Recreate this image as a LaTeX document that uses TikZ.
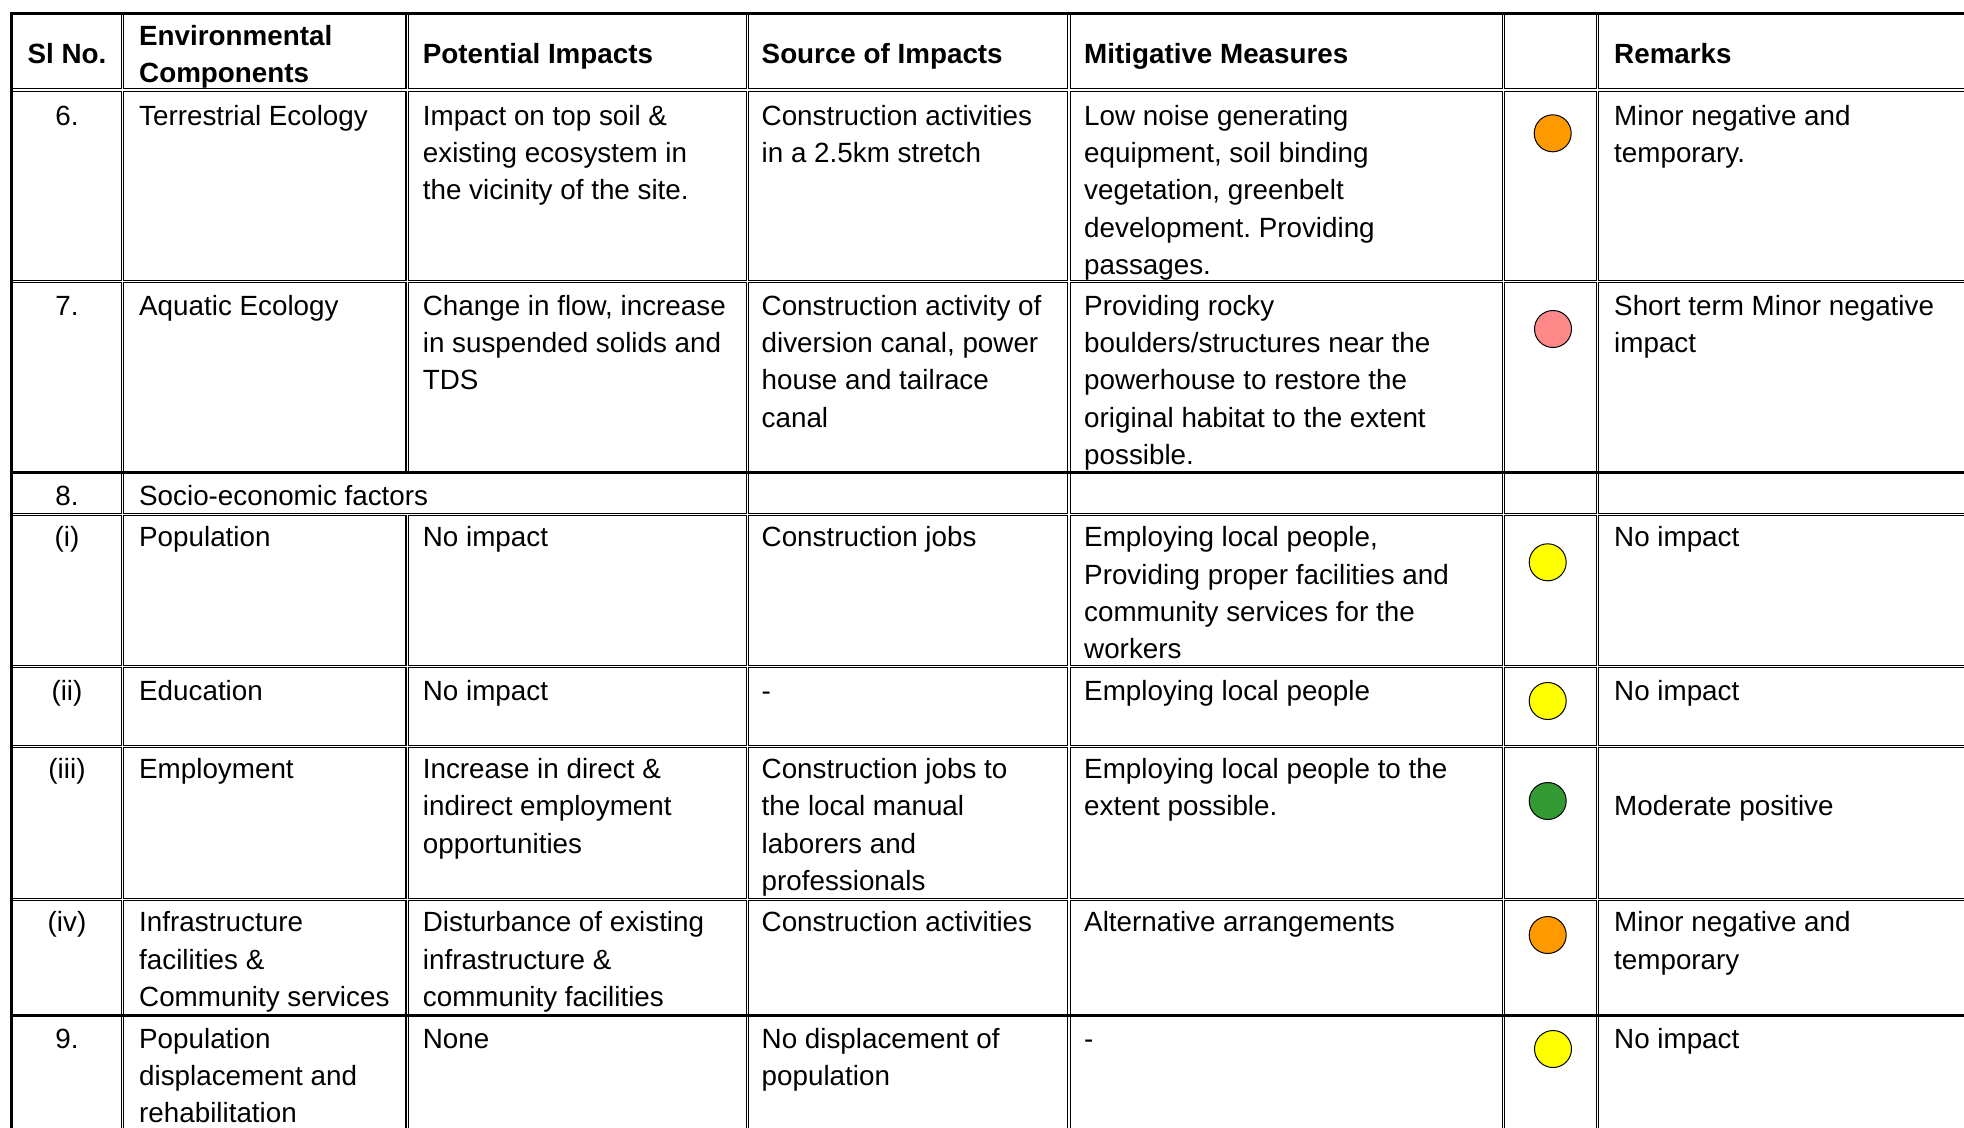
\documentclass[tikz,border=0pt]{standalone}
\usepackage{fontspec}
\setmainfont{Liberation Sans}
\usepackage{tikz}
\usetikzlibrary{positioning, calc}
\frenchspacing
\tikzstyle{cellLine}=[draw=black, line width=1.1pt]
\tikzstyle{outerLine}=[draw=black, line width=3pt]
\tikzstyle{heavyLine}=[draw=black, line width=2.6pt]
\tikzstyle{cellText}=[anchor=north west, inner sep=0pt, align=left,
  font=\fontsize{27.8}{37.3}\selectfont, execute at begin node=\strut]
\tikzstyle{headText}=[cellText, font=\fontsize{27.8}{37.3}\selectfont\bfseries]
\tikzstyle{numText}=[cellText, anchor=north, align=center]
\tikzstyle{headNum}=[headText, anchor=north, align=center]
\tikzstyle{rating}=[circle, draw=black, line width=1pt, minimum size=37pt, inner sep=0pt]
\definecolor{dotOrange}{RGB}{255,153,0}
\definecolor{dotPink}{RGB}{255,136,136}
\definecolor{dotYellow}{RGB}{255,255,0}
\definecolor{dotGreen}{RGB}{51,153,51}

\begin{document}
\begin{tikzpicture}[x=1pt, y=-1pt]
  \useasboundingbox (0,0) rectangle (1964,1127);
  \clip (0,0) rectangle (1964,1127);

  % cell borders
  \foreach \ya/\yb in {13/90, 90/281.7, 281.7/472.3, 514.3/666.7, 666.7/746.7,
      746.7/899.3, 899.3/1015.5, 1015.5/1200}
    \foreach \xa/\xb in {11.5/122.6, 122.6/407.2, 407.2/747.5, 747.5/1069,
        1069/1503.5, 1503.5/1597.7, 1597.7/2000}
      \draw[cellLine] (\xa+1.2,\ya+1.2) rectangle (\xb-1.2,\yb-1.2);
  \foreach \xa/\xb in {11.5/122.6, 122.6/747.5, 747.5/1069, 1069/1503.5,
      1503.5/1597.7, 1597.7/2000}
    \draw[cellLine] (\xa+1.2,473.5) rectangle (\xb-1.2,513.1);
  \draw[outerLine] (11.5,1200) -- (11.5,13) -- (2000,13);
  \foreach \y in {472.3, 1015.5}
    \draw[heavyLine] (11.5,\y) -- (2000,\y);

  % header
  \node[headNum] (hsl) at (67,37.2) {Sl No.};
  \node[headText] (henv) at (139,18.9) {\strut Environmental\\Components};
  \node[headText] (hpot) at (422.7,37.2) {Potential Impacts};
  \node[headText] (hsrc) at (761.5,37.2) {Source of Impacts};
  \node[headText] (hmit) at (1084,37.2) {Mitigative Measures};
  \node[headText] (hrem) at (1614,37.2) {Remarks};

  % row 6
  \node[numText] (sl6) at (67,99) {6.};
  \node[cellText] (env6) at (139,99) {Terrestrial Ecology};
  \node[cellText] (pot6) at (422.7,99) {\strut Impact on top soil \&\\existing ecosystem in\\the vicinity of the site.};
  \node[cellText] (src6) at (761.5,99) {\strut Construction activities\\in a 2.5km stretch};
  \node[cellText] (mit6) at (1084,99) {\strut Low noise generating\\equipment, soil binding\\vegetation, greenbelt\\development. Providing\\passages.};
  \node[rating, fill=dotOrange] (dot6) at (1552.7,133.3) {};
  \node[cellText] (rem6) at (1614,99) {\strut Minor negative and\\temporary.};

  % row 7
  \node[numText] (sl7) at (67,289) {7.};
  \node[cellText] (env7) at (139,289) {Aquatic Ecology};
  \node[cellText] (pot7) at (422.7,289) {\strut Change in flow, increase\\in suspended solids and\\TDS};
  \node[cellText] (src7) at (761.5,289) {\strut Construction activity of\\diversion canal, power\\house and tailrace\\canal};
  \node[cellText] (mit7) at (1084,289) {\strut Providing rocky\\boulders/structures near the\\powerhouse to restore the\\original habitat to the extent\\possible.};
  \node[rating, fill=dotPink] (dot7) at (1553,329) {};
  \node[cellText] (rem7) at (1614,289) {\strut Short term Minor negative\\impact};

  % row 8
  \node[numText] (sl8) at (67,479) {8.};
  \node[cellText] (env8) at (139,479) {Socio-economic factors};

  \node[numText] (sl8a) at (67,520.6) {(i)};
  \node[cellText] (env8a) at (139,520.6) {Population};
  \node[cellText] (pot8a) at (422.7,520.6) {No impact};
  \node[cellText] (src8a) at (761.5,520.6) {Construction jobs};
  \node[cellText] (mit8a) at (1084,520.6) {\strut Employing local people,\\Providing proper facilities and\\community services for the\\workers};
  \node[rating, fill=dotYellow] (dot8a) at (1547.7,562.3) {};
  \node[cellText] (rem8a) at (1614,520.6) {No impact};

  \node[numText] (sl8b) at (67,673.9) {(ii)};
  \node[cellText] (env8b) at (139,673.9) {Education};
  \node[cellText] (pot8b) at (422.7,673.9) {No impact};
  \node[cellText] (src8b) at (761.5,673.9) {-};
  \node[cellText] (mit8b) at (1084,673.9) {Employing local people};
  \node[rating, fill=dotYellow] (dot8b) at (1547.7,701) {};
  \node[cellText] (rem8b) at (1614,673.9) {No impact};

  \node[numText] (sl8c) at (67,752.2) {(iii)};
  \node[cellText] (env8c) at (139,752.2) {Employment};
  \node[cellText] (pot8c) at (422.7,752.2) {\strut Increase in direct \&\\indirect employment\\opportunities};
  \node[cellText] (src8c) at (761.5,752.2) {\strut Construction jobs to\\the local manual\\laborers and\\professionals};
  \node[cellText] (mit8c) at (1084,752.2) {\strut Employing local people to the\\extent possible.};
  \node[rating, fill=dotGreen] (dot8c) at (1547.7,801) {};
  \node[cellText] (rem8c) at (1614,789.6) {Moderate positive};

  \node[numText] (sl8d) at (67,905.6) {(iv)};
  \node[cellText] (env8d) at (139,905.6) {\strut Infrastructure\\facilities \&\\Community services};
  \node[cellText] (pot8d) at (422.7,905.6) {\strut Disturbance of existing\\infrastructure \&\\community facilities};
  \node[cellText] (src8d) at (761.5,905.6) {Construction activities};
  \node[cellText] (mit8d) at (1084,905.6) {Alternative arrangements};
  \node[rating, fill=dotOrange] (dot8d) at (1547.7,935) {};
  \node[cellText] (rem8d) at (1614,905.6) {\strut Minor negative and\\temporary};

  % row 9
  \node[numText] (sl9) at (67,1021.9) {9.};
  \node[cellText] (env9) at (139,1021.9) {\strut Population\\displacement and\\rehabilitation};
  \node[cellText] (pot9) at (422.7,1021.9) {None};
  \node[cellText] (src9) at (761.5,1021.9) {\strut No displacement of\\population};
  \node[cellText] (mit9) at (1084,1021.9) {-};
  \node[rating, fill=dotYellow] (dot9) at (1553,1049) {};
  \node[cellText] (rem9) at (1614,1021.9) {No impact};
\end{tikzpicture}
\end{document}
